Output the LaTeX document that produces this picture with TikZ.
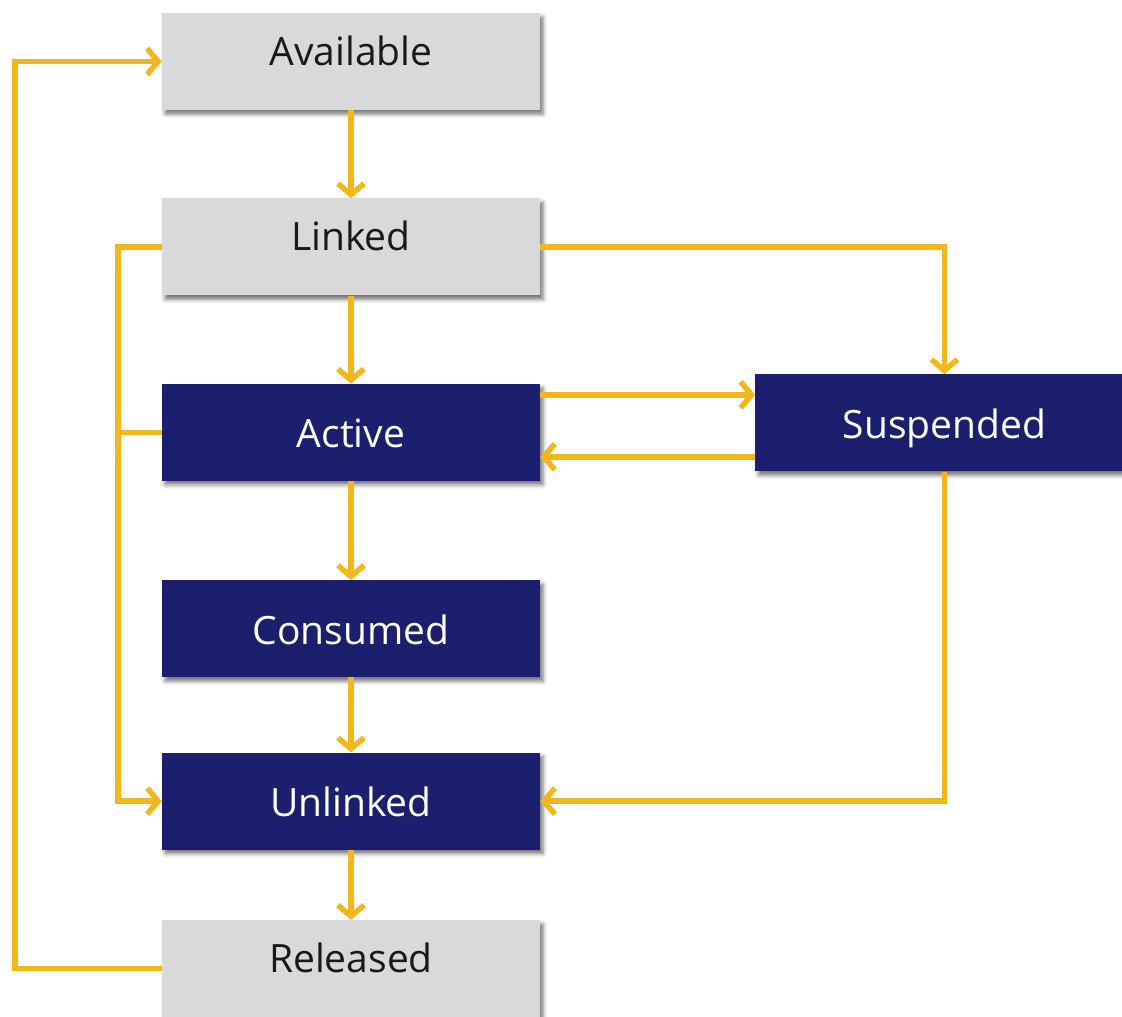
\documentclass[tikz,border=0pt]{standalone}
\usepackage{fontspec}
\setmainfont{Open Sans}
\usetikzlibrary{positioning,arrows.meta,shadows.blur}
\definecolor{flowgold}{RGB}{241,183,28}
\definecolor{stnavy}{RGB}{28,31,110}
\definecolor{stgray}{RGB}{217,217,217}
\begin{document}
\begin{tikzpicture}[
  node distance=88pt,
  every node/.style={font=\fontsize{39pt}{46pt}\selectfont},
  state/.style={minimum width=378pt, minimum height=97pt, inner sep=0pt,
                text height=32pt,
                blur shadow={shadow xshift=3pt, shadow yshift=-4pt,
                             shadow blur radius=4pt, shadow opacity=55}},
  graybox/.style={state, fill=stgray, text=black!90, text depth=25pt},
  navybox/.style={state, fill=stnavy, text=white, text depth=1pt},
  flow/.style={-{Straight Barb[length=11pt, width=26pt]}, line width=5.5pt,
               flowgold, line join=miter},
  joint/.style={line width=5.5pt, flowgold}
]
  \useasboundingbox (0,0) rectangle (1122pt,-1017pt);

  % main column
  \node[graybox] (avail) at (351pt,-61.5pt) {Available};
  \node[graybox, below=of avail]        (linked)   {Linked};
  \node[navybox, below=of linked]       (active)   {Active};
  \node[navybox, below=99pt of active]  (consumed) {Consumed};
  \node[navybox, below=75pt of consumed] (unlinked) {Unlinked};
  \node[graybox, below=70pt of unlinked] (released) {Released};
  \node[navybox, right=215pt of active, yshift=9.5pt] (susp) {Suspended};

  \draw[flow] (avail)    -- (linked);
  \draw[flow] (linked)   -- (active);
  \draw[flow] (active)   -- (consumed);
  \draw[flow] (consumed) -- (unlinked);
  \draw[flow] (unlinked) -- (released);

  % suspend / resume
  \draw[flow] (linked.east) -| (susp.north);
  \draw[flow] ([yshift=37.5pt]active.east) -- ([yshift=37.5pt]active.east -| susp.west);
  \draw[flow] ([yshift=-34pt]susp.west) -- ([yshift=-34pt]susp.west -| active.east);
  \draw[flow] (susp.south) |- (unlinked.east);

  % unlink paths on the left
  \coordinate (lbus) at ([xshift=-44pt]linked.west);
  \draw[flow] (linked.west) -- (lbus) |- (unlinked.west);
  \draw[joint] (active.west) -- (active.west -| lbus);

  % release back to available
  \coordinate (rbus) at ([xshift=-147pt]released.west);
  \draw[flow] (released.west) -- (rbus) |- (avail.west);
\end{tikzpicture}
\end{document}
